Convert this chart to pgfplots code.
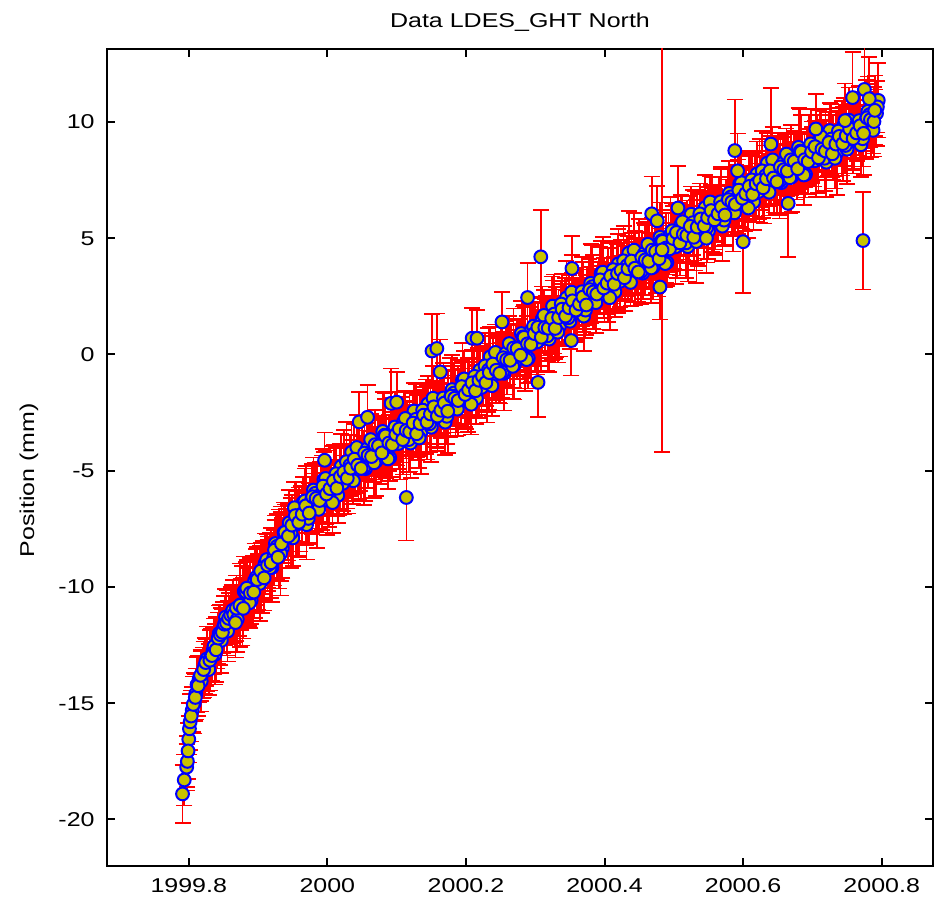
\documentclass[border=0pt]{standalone}
\usepackage{fontspec}
\setmainfont{Liberation Sans}[FakeStretch=1.25]
\usepackage{pgfplots}
\usepackage{pgfplotstable}
\pgfplotsset{compat=1.18}
\definecolor{markfill}{RGB}{200,195,0}

% time (yr), north position (mm), sigma (mm)
\pgfplotstableread{
t v e
1999.791 -18.90 1.25
1999.797 -17.75 1.0
1999.798 -17.50 1.1
1999.800 -16.55 1.0
1999.801 -16.10 1.1
1999.802 -15.80 1.2
1999.805 -15.30 1.0
1999.808 -15.00 1.3
1999.810 -14.60 1.1
1999.812 -14.20 1.2
1999.815 -13.95 1.0
1999.818 -14.05 1.3
1999.820 -13.70 1.1
1999.823 -13.40 1.2
1999.826 -13.10 1.4
1999.829 -13.55 1.1
1999.832 -13.00 1.2
1999.835 -12.75 1.0
1999.838 -12.90 1.3
1999.841 -12.40 1.1
1999.844 -12.00 1.2
1999.847 -12.30 1.4
1999.850 -11.75 1.1
1999.853 -11.30 1.2
1999.856 -11.90 1.3
1999.859 -11.40 1.0
1999.862 -11.10 1.2
1999.7935 -18.30 1.1
1999.7990 -17.05 1.2
1999.8035 -15.55 1.1
1999.8065 -15.05 1.2
1999.8095 -14.75 1.0
1999.8135 -14.25 1.3
1999.8170 -13.80 1.1
1999.8215 -13.55 1.2
1999.8245 -13.25 1.0
1999.8305 -13.15 1.3
1999.8335 -12.95 1.1
1999.8365 -12.55 1.2
1999.8395 -12.70 1.4
1999.8425 -12.20 1.1
1999.8455 -12.05 1.3
1999.8485 -11.95 1.0
1999.8515 -11.60 1.2
1999.8545 -11.55 1.4
1999.8575 -11.35 1.1
1999.8605 -11.20 1.2
1999.8635 -11.00 1.3
1999.865 -11.18 1.2
1999.870 -11.39 1.4
1999.875 -10.76 1.1
1999.880 -10.19 1.5
1999.885 -10.47 1.3
1999.890 -10.58 1.0
1999.895 -9.73 1.6
1999.900 -9.78 1.2
1999.905 -9.73 1.4
1999.910 -9.00 1.3
1999.915 -8.93 1.1
1999.920 -9.16 1.5
1999.925 -8.13 1.2
1999.930 -8.37 1.7
1999.935 -8.32 1.3
1999.940 -7.66 1.0
1999.945 -7.24 1.4
1999.950 -7.89 1.2
1999.955 -7.08 1.6
1999.960 -7.17 1.3
1999.965 -6.37 1.1
1999.970 -7.32 1.5
1999.975 -6.48 1.2
1999.980 -5.83 1.4
1999.985 -6.51 1.8
1999.990 -5.90 1.3
1999.995 -5.38 1.2
2000.000 -6.27 1.5
2000.005 -5.84 1.1
2000.010 -5.30 1.4
2000.015 -6.06 1.2
2000.020 -4.81 1.4
2000.025 -5.07 1.1
2000.030 -5.34 1.5
2000.035 -4.20 1.3
2000.040 -4.96 1.0
2000.045 -4.63 1.6
2000.050 -4.12 1.2
2000.055 -4.91 1.4
2000.060 -4.11 1.3
2000.065 -3.91 1.1
2000.070 -4.60 1.5
2000.075 -3.90 1.2
2000.080 -3.31 1.7
2000.085 -4.03 1.3
2000.090 -4.44 1.0
2000.095 -3.26 1.4
2000.100 -3.57 1.2
2000.105 -3.78 1.6
2000.110 -2.89 1.3
2000.115 -3.10 1.1
2000.120 -3.81 1.5
2000.125 -2.43 1.2
2000.130 -3.14 1.4
2000.135 -3.34 1.8
2000.140 -2.53 1.3
2000.145 -2.13 1.2
2000.150 -3.13 1.5
2000.155 -2.42 1.1
2000.160 -2.62 1.4
2000.165 -1.92 1.2
2000.170 -2.91 1.4
2000.175 -2.11 1.1
2000.180 -1.51 1.5
2000.185 -2.20 1.3
2000.190 -1.60 1.0
2000.195 -1.10 1.6
2000.200 -1.99 1.2
2000.205 -1.59 1.4
2000.210 -1.09 1.3
2000.215 -1.88 1.1
2000.220 -0.68 1.5
2000.225 -0.95 1.2
2000.230 -1.23 1.7
2000.235 -0.10 1.3
2000.240 -0.88 1.0
2000.245 -0.55 1.4
2000.250 -0.03 1.2
2000.255 -0.81 1.6
2000.260 0.01 1.3
2000.265 0.23 1.1
2000.270 -0.44 1.5
2000.275 0.28 1.2
2000.280 0.90 1.4
2000.285 0.22 1.8
2000.290 -0.16 1.3
2000.295 1.06 1.2
2000.300 0.78 1.5
2000.305 0.60 1.1
2000.310 1.52 1.4
2000.315 1.34 1.2
2000.320 0.66 1.4
2000.325 2.08 1.1
2000.330 1.40 1.5
2000.335 1.22 1.3
2000.340 2.02 1.0
2000.345 2.43 1.6
2000.350 1.43 1.2
2000.355 2.13 1.4
2000.360 1.94 1.3
2000.365 2.64 1.1
2000.370 1.65 1.5
2000.375 2.46 1.2
2000.380 3.06 1.7
2000.385 2.37 1.3
2000.390 2.98 1.0
2000.395 3.48 1.4
2000.400 2.59 1.2
2000.405 2.99 1.6
2000.410 3.49 1.3
2000.415 2.70 1.1
2000.420 3.90 1.5
2000.425 3.59 1.2
2000.430 3.27 1.4
2000.435 4.36 1.8
2000.440 3.54 1.3
2000.445 3.83 1.2
2000.450 4.32 1.5
2000.455 3.50 1.1
2000.460 4.29 1.4
2000.465 4.48 1.2
2000.470 3.76 1.4
2000.475 4.45 1.1
2000.480 5.04 1.5
2000.485 4.35 1.3
2000.490 3.96 1.0
2000.495 5.16 1.6
2000.500 4.87 1.2
2000.505 4.68 1.4
2000.510 5.57 1.3
2000.515 5.35 1.1
2000.520 4.64 1.5
2000.525 6.03 1.2
2000.530 5.31 1.7
2000.535 5.10 1.3
2000.540 5.90 1.0
2000.545 6.31 1.4
2000.550 5.31 1.2
2000.555 6.01 1.6
2000.560 5.82 1.3
2000.565 6.52 1.1
2000.570 5.52 1.5
2000.575 6.33 1.2
2000.580 6.93 1.4
2000.585 6.23 1.8
2000.590 6.84 1.3
2000.595 7.34 1.2
2000.600 6.44 1.5
2000.605 6.85 1.1
2000.610 7.35 1.4
2000.615 6.56 1.2
2000.620 7.76 1.4
2000.625 7.45 1.1
2000.630 7.14 1.5
2000.635 8.23 1.3
2000.640 7.42 1.0
2000.645 7.71 1.6
2000.650 8.20 1.2
2000.655 7.39 1.4
2000.660 8.17 1.3
2000.665 8.36 1.1
2000.670 7.64 1.5
2000.675 8.33 1.2
2000.680 8.91 1.7
2000.685 8.18 1.3
2000.690 7.75 1.0
2000.695 8.92 1.4
2000.700 8.59 1.2
2000.705 8.36 1.6
2000.710 9.23 1.3
2000.715 9.00 1.1
2000.720 8.27 1.5
2000.725 9.63 1.2
2000.730 8.90 1.4
2000.735 8.67 1.8
2000.740 9.45 1.3
2000.745 9.84 1.2
2000.750 8.83 1.5
2000.755 9.52 1.1
2000.760 9.31 1.4
2000.765 10.00 1.2
2000.770 9.02 1.4
2000.775 9.84 1.1
2000.780 10.46 1.5
2000.785 9.78 1.3
2000.790 10.40 1.0
2000.795 10.93 1.6
1999.8675 -11.53 1.5
1999.8725 -10.90 1.2
1999.8775 -10.81 1.7
1999.8825 -10.21 1.3
1999.8875 -10.68 1.0
1999.8925 -10.07 1.4
1999.8975 -9.58 1.2
1999.9025 -9.85 1.6
1999.9075 -9.31 1.3
1999.9125 -8.82 1.1
1999.9175 -9.17 1.5
1999.9225 -8.74 1.2
1999.9275 -8.25 1.4
1999.9325 -8.56 1.8
1999.9375 -7.66 1.3
1999.9425 -7.66 1.2
1999.9475 -7.68 1.5
1999.9525 -6.59 1.1
1999.9575 -7.28 1.4
1999.9625 -6.87 1.2
1999.9675 -6.30 1.4
1999.9725 -7.05 1.1
1999.9775 -6.21 1.5
1999.9825 -5.97 1.3
1999.9875 -6.66 1.0
1999.9925 -5.94 1.6
1999.9975 -5.33 1.2
2000.0025 -6.01 1.4
2000.0075 -6.37 1.3
2000.0125 -5.13 1.1
2000.0175 -5.39 1.5
2000.0225 -5.54 1.2
2000.0275 -4.61 1.7
2000.0325 -4.77 1.3
2000.0375 -5.43 1.0
2000.0425 -4.00 1.4
2000.0475 -4.68 1.2
2000.0525 -4.87 1.6
2000.0575 -4.06 1.3
2000.0625 -3.66 1.1
2000.0675 -4.66 1.5
2000.0725 -3.95 1.2
2000.0775 -4.16 1.4
2000.0825 -3.47 1.8
2000.0875 -4.49 1.3
2000.0925 -3.70 1.2
2000.0975 -3.12 1.5
2000.1025 -3.83 1.1
2000.1075 -3.24 1.4
2000.1125 -2.75 1.2
2000.1175 -3.66 1.4
2000.1225 -3.27 1.1
2000.1275 -2.79 1.5
2000.1325 -3.59 1.3
2000.1375 -2.39 1.0
2000.1425 -2.68 1.6
2000.1475 -2.98 1.2
2000.1525 -1.88 1.4
2000.1575 -2.67 1.3
2000.1625 -2.37 1.1
2000.1675 -1.87 1.5
2000.1725 -2.66 1.2
2000.1775 -1.86 1.7
2000.1825 -1.66 1.3
2000.1875 -2.35 1.0
2000.1925 -1.65 1.4
2000.1975 -1.05 1.2
2000.2025 -1.74 1.6
2000.2075 -2.14 1.3
2000.2125 -0.94 1.1
2000.2175 -1.23 1.5
2000.2225 -1.42 1.2
2000.2275 -0.49 1.4
2000.2325 -0.67 1.8
2000.2375 -1.34 1.3
2000.2425 0.09 1.2
2000.2475 -0.59 1.5
2000.2525 -0.77 1.1
2000.2575 0.05 1.4
2000.2625 0.47 1.2
2000.2675 -0.51 1.4
2000.2725 0.22 1.1
2000.2775 0.04 1.5
2000.2825 0.76 1.3
2000.2875 -0.22 1.0
2000.2925 0.60 1.6
2000.2975 1.22 1.2
2000.3025 0.54 1.4
2000.3075 1.16 1.3
2000.3125 1.68 1.1
2000.3175 0.80 1.5
2000.3225 1.22 1.2
2000.3275 1.74 1.7
2000.3325 0.96 1.3
2000.3375 2.17 1.0
2000.3425 1.88 1.4
2000.3475 1.58 1.2
2000.3525 2.68 1.6
2000.3575 1.89 1.3
2000.3625 2.19 1.1
2000.3675 2.70 1.5
2000.3725 1.91 1.2
2000.3775 2.71 1.4
2000.3825 2.92 1.8
2000.3875 2.23 1.3
2000.3925 2.93 1.2
2000.3975 3.54 1.5
2000.4025 2.84 1.1
2000.4075 2.44 1.4
2000.4125 3.65 1.2
2000.4175 3.35 1.4
2000.4225 3.15 1.1
2000.4275 4.03 1.5
2000.4325 3.82 1.3
2000.4375 3.10 1.0
2000.4425 4.49 1.6
2000.4475 3.78 1.2
2000.4525 3.56 1.4
2000.4575 4.35 1.3
2000.4625 4.74 1.1
2000.4675 3.72 1.5
2000.4725 4.41 1.2
2000.4775 4.20 1.7
2000.4825 4.90 1.3
2000.4875 3.91 1.0
2000.4925 4.71 1.4
2000.4975 5.32 1.2
2000.5025 4.63 1.6
2000.5075 5.23 1.3
2000.5125 5.71 1.1
2000.5175 4.80 1.5
2000.5225 5.19 1.2
2000.5275 5.67 1.4
2000.5325 4.86 1.8
2000.5375 6.05 1.3
2000.5425 5.76 1.2
2000.5475 5.46 1.5
2000.5525 6.56 1.1
2000.5575 5.77 1.4
2000.5625 6.07 1.2
2000.5675 6.57 1.4
2000.5725 5.78 1.1
2000.5775 6.58 1.5
2000.5825 6.78 1.3
2000.5875 6.09 1.0
2000.5925 6.79 1.6
2000.5975 7.39 1.2
2000.6025 6.70 1.4
2000.6075 6.30 1.3
2000.6125 7.51 1.1
2000.6175 7.21 1.5
2000.6225 7.01 1.2
2000.6275 7.90 1.7
2000.6325 7.69 1.3
2000.6375 6.98 1.0
2000.6425 8.37 1.4
2000.6475 7.66 1.2
2000.6525 7.45 1.6
2000.6575 8.23 1.3
2000.6625 8.62 1.1
2000.6675 7.60 1.5
2000.6725 8.29 1.2
2000.6775 8.07 1.4
2000.6825 8.75 1.8
2000.6875 7.72 1.3
2000.6925 8.49 1.2
2000.6975 9.06 1.5
2000.7025 8.33 1.1
2000.7075 8.90 1.4
2000.7125 9.37 1.2
2000.7175 8.44 1.4
2000.7225 8.80 1.1
2000.7275 9.27 1.5
2000.7325 8.44 1.3
2000.7375 9.61 1.0
2000.7425 9.30 1.6
2000.7475 8.99 1.2
2000.7525 10.08 1.4
2000.7575 9.27 1.3
2000.7625 9.56 1.1
2000.7675 10.06 1.5
2000.7725 9.28 1.2
2000.7775 10.10 1.7
2000.7825 10.32 1.3
2000.7875 9.64 1.0
2000.7925 10.37 1.4
1999.86875 -10.91 1.4
1999.87375 -10.79 1.8
1999.87875 -10.92 1.3
1999.88375 -10.05 1.2
1999.88875 -10.26 1.5
1999.89375 -10.22 1.1
1999.89875 -9.68 1.4
1999.90375 -9.31 1.2
1999.90875 -9.61 1.4
1999.91375 -9.06 1.1
1999.91875 -8.96 1.5
1999.92375 -8.41 1.3
1999.92875 -8.72 1.0
1999.93375 -8.14 1.6
1999.93875 -7.65 1.2
1999.94375 -7.81 1.4
1999.94875 -7.34 1.3
1999.95375 -6.93 1.1
1999.95875 -7.22 1.5
1999.96375 -6.87 1.2
1999.96875 -6.51 1.7
1999.97375 -6.82 1.3
1999.97875 -6.12 1.0
1999.98375 -6.19 1.4
1999.98875 -6.28 1.2
1999.99375 -5.66 1.6
1999.99875 -6.00 1.3
2000.00375 -5.77 1.1
2000.00875 -5.44 1.5
2000.01375 -5.75 1.2
2000.01875 -5.25 1.4
2000.02375 -5.06 1.8
2000.02875 -5.32 1.3
2000.03375 -4.89 1.2
2000.03875 -4.50 1.5
2000.04375 -4.76 1.1
2000.04875 -4.90 1.4
2000.05375 -4.24 1.2
2000.05875 -4.34 1.4
2000.06375 -4.39 1.1
2000.06875 -3.88 1.5
2000.07375 -3.93 1.3
2000.07875 -4.23 1.0
2000.08375 -3.50 1.6
2000.08875 -3.81 1.2
2000.09375 -3.88 1.4
2000.09875 -3.44 1.3
2000.10375 -3.20 1.1
2000.10875 -3.66 1.5
2000.11375 -3.27 1.2
2000.11875 -3.33 1.7
2000.12375 -2.95 1.3
2000.12875 -3.41 1.0
2000.13375 -2.97 1.4
2000.13875 -2.61 1.2
2000.14375 -2.91 1.6
2000.14875 -2.56 1.3
2000.15375 -2.25 1.1
2000.15875 -2.65 1.5
2000.16375 -2.40 1.2
2000.16875 -2.09 1.4
2000.17375 -2.44 1.8
2000.17875 -1.79 1.3
2000.18375 -1.88 1.2
2000.18875 -1.98 1.5
2000.19375 -1.38 1.1
2000.19875 -1.72 1.4
2000.20375 -1.52 1.2
2000.20875 -1.22 1.4
2000.21375 -1.56 1.1
2000.21875 -1.11 1.5
2000.22375 -0.93 1.3
2000.22875 -1.21 1.0
2000.23375 -0.78 1.6
2000.23875 -0.41 1.2
2000.24375 -0.68 1.4
2000.24875 -0.81 1.3
2000.25375 -0.14 1.1
2000.25875 -0.22 1.5
2000.26375 -0.25 1.2
2000.26875 0.28 1.7
2000.27375 0.25 1.3
2000.27875 -0.03 1.0
2000.28375 0.74 1.4
2000.28875 0.46 1.2
2000.29375 0.43 1.6
2000.29875 0.90 1.3
2000.30375 1.17 1.1
2000.30875 0.74 1.5
2000.31375 1.16 1.2
2000.31875 1.13 1.4
2000.32375 1.55 1.8
2000.32875 1.12 1.3
2000.33375 1.59 1.2
2000.33875 1.95 1.5
2000.34375 1.65 1.1
2000.34875 2.01 1.4
2000.35375 2.31 1.2
2000.35875 1.91 1.4
2000.36375 2.17 1.1
2000.36875 2.47 1.5
2000.37375 2.13 1.3
2000.37875 2.79 1.0
2000.38375 2.69 1.6
2000.38875 2.60 1.2
2000.39375 3.21 1.4
2000.39875 2.86 1.3
2000.40375 3.07 1.1
2000.40875 3.37 1.5
2000.41375 3.02 1.2
2000.41875 3.48 1.7
2000.42375 3.62 1.3
2000.42875 3.30 1.0
2000.43375 3.69 1.4
2000.43875 4.02 1.2
2000.44375 3.71 1.6
2000.44875 3.55 1.3
2000.45375 4.18 1.1
2000.45875 4.07 1.5
2000.46375 4.01 1.2
2000.46875 4.49 1.4
2000.47375 4.43 1.8
2000.47875 4.12 1.3
2000.48375 4.87 1.2
2000.48875 4.58 1.5
2000.49375 4.54 1.1
2000.49875 4.99 1.4
2000.50375 5.25 1.2
2000.50875 4.80 1.4
2000.51375 5.18 1.1
2000.51875 5.12 1.5
2000.52375 5.51 1.3
2000.52875 5.04 1.0
2000.53375 5.48 1.6
2000.53875 5.83 1.2
2000.54375 5.53 1.4
2000.54875 5.89 1.3
2000.55375 6.19 1.1
2000.55875 5.79 1.5
2000.56375 6.05 1.2
2000.56875 6.35 1.7
2000.57375 6.00 1.3
2000.57875 6.66 1.0
2000.58375 6.56 1.4
2000.58875 6.46 1.2
2000.59375 7.07 1.6
2000.59875 6.72 1.3
2000.60375 6.92 1.1
2000.60875 7.23 1.5
2000.61375 6.88 1.2
2000.61875 7.34 1.4
2000.62375 7.48 1.8
2000.62875 7.17 1.3
2000.63375 7.56 1.2
2000.63875 7.90 1.5
2000.64375 7.59 1.1
2000.64875 7.43 1.4
2000.65375 8.07 1.2
2000.65875 7.95 1.4
2000.66375 7.89 1.1
2000.66875 8.37 1.5
2000.67375 8.31 1.3
2000.67875 7.99 1.0
2000.68375 8.71 1.6
2000.68875 8.38 1.2
2000.69375 8.30 1.4
2000.69875 8.72 1.3
2000.70375 8.94 1.1
2000.70875 8.46 1.5
2000.71375 8.83 1.2
2000.71875 8.75 1.7
2000.72375 9.12 1.3
2000.72875 8.63 1.0
2000.73375 9.05 1.4
2000.73875 9.38 1.2
2000.74375 9.07 1.6
2000.74875 9.41 1.3
2000.75375 9.70 1.1
2000.75875 9.29 1.5
2000.76375 9.53 1.2
2000.76875 9.84 1.4
2000.77375 9.51 1.8
2000.77875 10.18 1.3
2000.78375 10.10 1.2
2000.78875 10.02 1.5
2000.79375 10.65 1.1
2000.114 -6.15 1.85
1999.996 -4.55 1.2
2000.046 -2.90 1.3
2000.058 -2.70 1.4
2000.092 -2.10 1.5
2000.100 -2.05 1.3
2000.151 0.15 1.6
2000.158 0.26 1.5
2000.163 -0.75 1.4
2000.209 0.70 1.3
2000.216 0.70 1.2
2000.252 1.40 1.3
2000.289 2.45 1.5
2000.304 -1.20 1.5
2000.308 4.20 2.0
2000.352 0.60 1.5
2000.353 3.70 1.4
2000.468 6.05 1.6
2000.476 5.75 1.5
2000.480 2.90 1.4
2000.483 4.50 8.7
2000.506 6.30 1.8
2000.547 5.00 1.5
2000.588 8.77 2.2
2000.592 7.90 1.6
2000.600 4.85 2.2
2000.640 9.05 2.4
2000.665 6.50 2.3
2000.705 9.70 1.5
2000.747 10.06 1.6
2000.758 11.05 1.95
2000.773 4.90 2.1
2000.775 11.40 2.2
2000.782 11.00 1.8
2000.790 10.50 1.5
}\gpsdata

\begin{document}
\begin{tikzpicture}[font=\fontsize{10}{12}\selectfont]
\begin{axis}[
  scale only axis, width=413pt, height=408.5pt,
  xmin=1999.682, xmax=2000.874, ymin=-22, ymax=13.14,
  xtick={1999.8,2000,2000.2,2000.4,2000.6,2000.8},
  ytick={-20,-15,-10,-5,0,5,10},
  tick align=inside, xtick pos=both, ytick pos=both,
  major tick length=4pt,
  every tick/.style={black, line width=1pt},
  axis line style={line width=1pt},
  /pgf/number format/assume math mode=true,
  /pgf/number format/1000 sep={},
  title={Data LDES\_GHT North},
  title style={at={(axis description cs:0.5,1)}, anchor=base, yshift=4.5pt, inner sep=0pt},
  ylabel={Position (mm)},
  every axis y label/.style={at={(axis description cs:0,0.472)}, xshift=-39pt, rotate=90, anchor=center, inner sep=0pt},
  xticklabel style={anchor=base, inner sep=0pt, yshift=-13.5pt},
  yticklabel style={anchor=east, inner sep=0pt, xshift=-6pt},
]
\addplot[draw=none, mark=none, forget plot,
  error bars/.cd, y dir=both, y explicit, error mark=-,
  error bar style={draw=red, line width=0.85pt},
  error mark options={rotate=90, draw=red, line width=0.85pt, mark size=4pt}]
  table[x=t, y=v, y error=e]{\gpsdata};
\addplot[only marks, mark=*, mark size=3.2pt,
  mark options={draw=blue, fill=markfill, line width=1pt}]
  table[x=t, y=v]{\gpsdata};
\end{axis}
\pgfresetboundingbox
\path[use as bounding box] ([xshift=-53.5pt,yshift=-21.5pt]current axis.south west) rectangle ([xshift=4.5pt,yshift=24.5pt]current axis.north east);
\end{tikzpicture}
\end{document}
